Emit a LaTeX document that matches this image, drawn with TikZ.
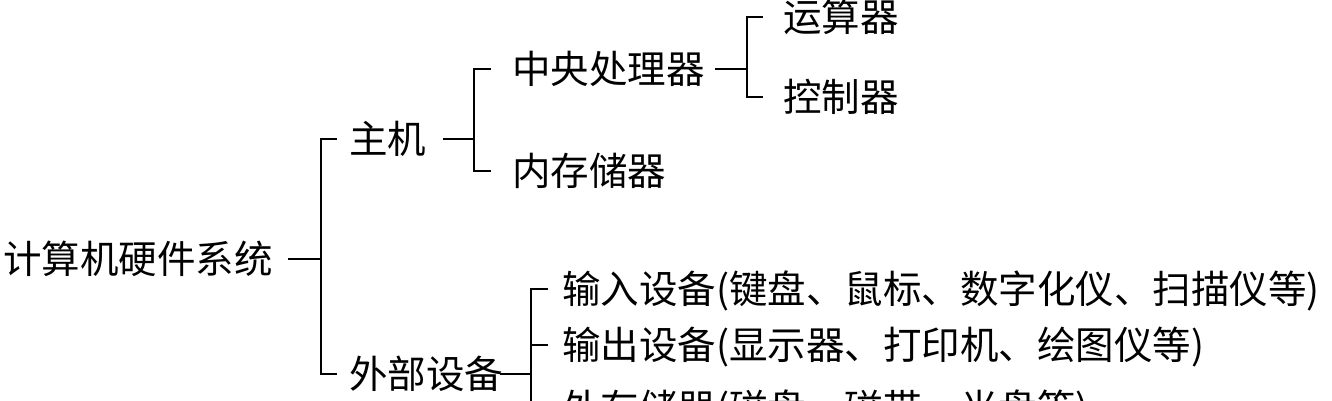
\documentclass[tikz,border=0pt]{standalone}
\usepackage{fontspec}
\newfontfamily\cjk{Noto Sans CJK SC}
\begin{document}
\begin{tikzpicture}[x=1pt,y=-1pt,
  lbl/.style={anchor=west,inner sep=0pt,text height=31.5pt,text depth=3pt,
    font=\cjk\fontsize{38.5}{40}\selectfont},
  br/.style={line width=2.2pt,line cap=butt,line join=miter}]
\useasboundingbox (0,0) rectangle (1332,400);
\clip (0,0) rectangle (1332,400);
\fill[white] (0,0) rectangle (1332,400);
% nodes
\node[lbl] (root) at (3,259) {计算机硬件系统};
\node[lbl] (zhuji) at (349,139) {主机};
\node[lbl] (wbsb) at (349,374) {外部设备};
\node[lbl] (cpu) at (512,69) {中央处理器};
\node[lbl] (nc) at (512,171) {内存储器};
\node[lbl] (ys) at (783,17) {运算器};
\node[lbl] (kz) at (783,97) {控制器};
\node[lbl] (sr) at (562,289) {输入设备(键盘、鼠标、数字化仪、扫描仪等)};
\node[lbl] (sc) at (562,345) {输出设备(显示器、打印机、绘图仪等)};
\node[lbl] (wc) at (562,408) {外存储器(磁盘、磁带、光盘等)};
% root bracket
\draw[br] ([xshift=15pt]root.east) -- ([xshift=-28pt]zhuji.west |- root.east);
\draw[br] ([xshift=-12pt]zhuji.west) -- ([xshift=-28pt]zhuji.west) -- ([xshift=-28pt]wbsb.west) -- ([xshift=-12pt]wbsb.west);
% zhuji bracket
\draw[br] ([xshift=17pt]zhuji.east) -- ([xshift=-38pt]cpu.west |- zhuji.east);
\draw[br] ([xshift=-21pt]cpu.west) -- ([xshift=-38pt]cpu.west) -- ([xshift=-38pt]nc.west) -- ([xshift=-21pt]nc.west);
% cpu bracket
\draw[br] ([xshift=10pt]cpu.east) -- ([xshift=-36pt]ys.west |- cpu.east);
\draw[br] ([xshift=-20pt]ys.west) -- ([xshift=-36pt]ys.west) -- ([xshift=-36pt]kz.west) -- ([xshift=-20pt]kz.west);
% wbsb bracket
\draw[br] ([xshift=-3pt]wbsb.east) -- ([xshift=-31pt]sr.west |- wbsb.east);
\draw[br] ([xshift=-14pt]sr.west) -- ([xshift=-31pt]sr.west) -- ([xshift=-31pt]wc.west) -- ([xshift=-14pt]wc.west);
\draw[br] ([xshift=-14pt]sc.west) -- ([xshift=-31pt]sc.west);
\end{tikzpicture}
\end{document}
